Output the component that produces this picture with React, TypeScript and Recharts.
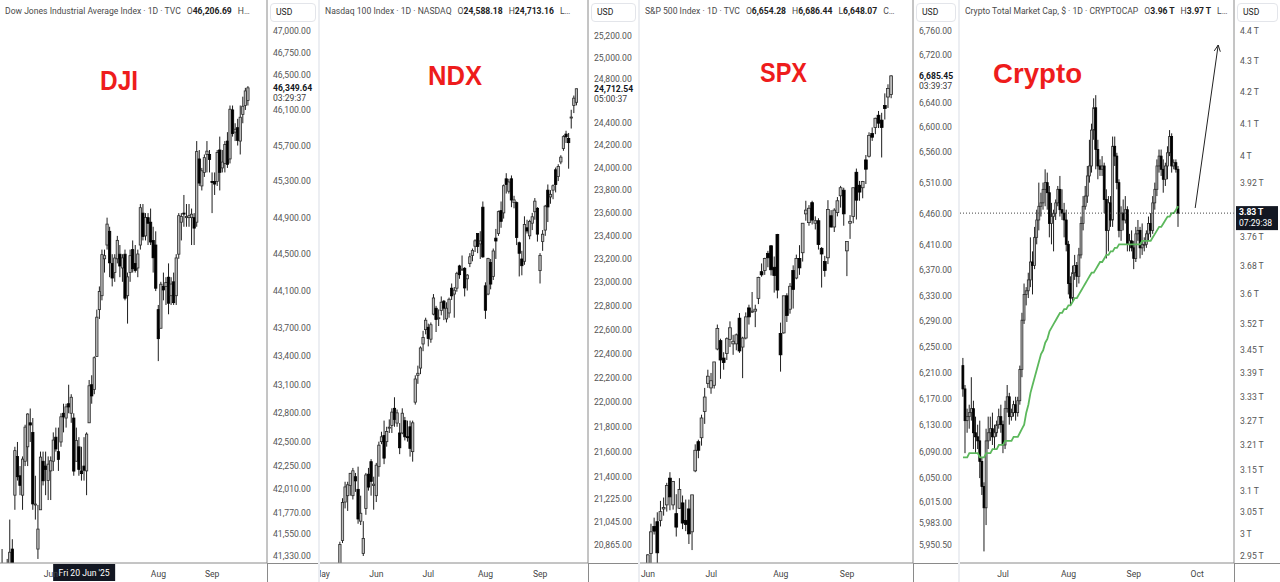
import React from 'react';
import { ComposedChart, Bar, Line, XAxis, YAxis, ReferenceLine } from 'recharts';

const FONT = "Roboto, 'Noto Sans', 'DejaVu Sans', sans-serif";
const THIN = '\u2009';

// ---------- DJI, daily bars from Mon 5 May 2025 ----------
const djiOhlc = [
  [41150, 41400, 41080, 41218], [41000, 41050, 40700, 40829], [40900, 41300, 40800, 41114], [41200, 41700, 41150, 41368],
  [41400, 41500, 41150, 41249], [41950, 42450, 41800, 42410], [42350, 42500, 42100, 42140], [42150, 42250, 41950, 42051],
  [41950, 42350, 41800, 42322], [42300, 42680, 42250, 42655], [42450, 42800, 42250, 42792], [42700, 42850, 42500, 42677],
  [42600, 42750, 41800, 41860], [41850, 42150, 41700, 41859], [41400, 41850, 41300, 41603], [41800, 42400, 41800, 42343],
  [42300, 42400, 42050, 42098], [42250, 42400, 41950, 42215], [42100, 42350, 41900, 42270], [42200, 42350, 41900, 42305],
  [42300, 42600, 42200, 42520], [42550, 42650, 42400, 42427], [42400, 42650, 42200, 42319], [42500, 42800, 42450, 42763],
  [42800, 42900, 42600, 42762], [42750, 42900, 42650, 42867], [42900, 43100, 42800, 42866], [42800, 43000, 42700, 42968],
  [42750, 42800, 42150, 42198], [42300, 42650, 42300, 42515], [42450, 42550, 42150, 42215], [42200, 42450, 42100, 42172],
  [42250, 42550, 42100, 42207], [42200, 42600, 41950, 42582], [42700, 43150, 42700, 43089], [43100, 43200, 42900, 42982],
  [43050, 43400, 43000, 43386], [43400, 43900, 43400, 43819], [43900, 44150, 43800, 44095], [44050, 44550, 44000, 44495],
  [44450, 44550, 44300, 44484], [44600, 44900, 44550, 44829], [44750, 44800, 44250, 44406], [44400, 44500, 44150, 44241],
  [44300, 44500, 44200, 44458], [44450, 44700, 44400, 44651], [44500, 44600, 44250, 44371], [44350, 44500, 44200, 44460],
  [44500, 44550, 44000, 44023], [44050, 44300, 43750, 44254], [44300, 44550, 44200, 44484], [44550, 44650, 44300, 44342],
  [44400, 44600, 44300, 44323], [44350, 44550, 44250, 44502], [44600, 45050, 44550, 45010], [44950, 45050, 44650, 44694],
  [44700, 44950, 44650, 44902], [44900, 44950, 44600, 44838], [44850, 45000, 44600, 44633], [44650, 44800, 44300, 44461],
  [44600, 44750, 44100, 44131], [43900, 43950, 43350, 43589], [43700, 44200, 43700, 44174], [44150, 44300, 44000, 44112],
  [44150, 44250, 43950, 44193], [44250, 44400, 43850, 43969], [44050, 44250, 43950, 44176], [44200, 44300, 43950, 43975],
  [44050, 44500, 43950, 44459], [44500, 44950, 44450, 44922], [44850, 44950, 44650, 44912], [44950, 45150, 44800, 44946],
  [44900, 45050, 44800, 44912], [44900, 45050, 44800, 44922], [44900, 45000, 44600, 44938], [44900, 44950, 44600, 44785],
  [44850, 45750, 44800, 45632], [45550, 45650, 45250, 45282], [45250, 45450, 45200, 45418], [45400, 45600, 45350, 45565],
  [45600, 45750, 45400, 45637], [45600, 45650, 45400, 45545], [45300, 45400, 44950, 45296], [45300, 45400, 45150, 45271],
  [45300, 45650, 45250, 45621], [45650, 45800, 45200, 45401], [45450, 45650, 45400, 45515], [45500, 45750, 45400, 45711],
  [45750, 45850, 45450, 45490], [45550, 46150, 45500, 46108], [46100, 46150, 45800, 45834], [45850, 45950, 45750, 45883],
  [45900, 46000, 45700, 45758], [45750, 46150, 45600, 46018], [46050, 46250, 45950, 46142], [46150, 46350, 46100, 46315],
  [46207, 46370, 46150, 46350],
];
const djiTicks = [47000, 46750, 46500, 46100, 45700, 45300, 44900, 44500, 44100, 43700, 43400, 43100, 42800, 42500, 42250, 42010, 41770, 41550, 41330];
// "Jul" sits under the crosshair date tag in the reference, so only these show
const djiMonthIdx = [19, 61, 82];
const djiMonthNames = ['Jun', 'Aug', 'Sep'];

// ---------- NDX, daily bars from Mon 12 May 2025 ----------
const ndxOhlc = [
  [20720, 20890, 20620, 20868], [20900, 21230, 20880, 21197], [21200, 21360, 21150, 21319], [21250, 21360, 21130, 21336],
  [21330, 21430, 21250, 21427], [21250, 21470, 21220, 21447], [21400, 21430, 21280, 21367], [21300, 21480, 21030, 21067],
  [21050, 21250, 21020, 21112], [20800, 21050, 20780, 20916], [21150, 21430, 21100, 21414], [21420, 21470, 21290, 21318],
  [21520, 21540, 21250, 21363], [21330, 21400, 21140, 21341], [21250, 21510, 21200, 21492], [21480, 21680, 21400, 21652],
  [21680, 21760, 21660, 21719], [21730, 21850, 21500, 21548], [21680, 21800, 21640, 21762], [21790, 21860, 21750, 21797],
  [21810, 21950, 21750, 21919], [21950, 22040, 21800, 21860], [21830, 21940, 21800, 21913], [21750, 21830, 21580, 21631],
  [21750, 21950, 21740, 21910], [21850, 21880, 21690, 21719], [21720, 21850, 21680, 21719], [21800, 21850, 21560, 21626],
  [21600, 21850, 21520, 21832], [22000, 22220, 21980, 22190], [22220, 22300, 22150, 22237], [22280, 22460, 22230, 22447],
  [22480, 22590, 22420, 22534], [22600, 22700, 22560, 22679], [22620, 22650, 22460, 22526], [22520, 22660, 22490, 22641],
  [22730, 22900, 22720, 22867], [22780, 22800, 22580, 22685], [22700, 22770, 22630, 22700], [22760, 22880, 22720, 22831],
  [22840, 22850, 22680, 22780], [22690, 22830, 22660, 22780], [22740, 22870, 22700, 22856], [22950, 22990, 22850, 22885],
  [22900, 22960, 22700, 22933], [22950, 23090, 22920, 23077], [23140, 23150, 23030, 23065], [23110, 23230, 23100, 23113],
  [23120, 23130, 22880, 22952], [23030, 23070, 22930, 23062], [23160, 23250, 23130, 23219], [23230, 23290, 23180, 23272],
  [23310, 23370, 23260, 23357], [23420, 23420, 23250, 23308], [23330, 23440, 23200, 23356], [23650, 23700, 23210, 23218],
  [22970, 23000, 22690, 22763], [22900, 23210, 22890, 23205], [23170, 23200, 22940, 22985], [23050, 23290, 23020, 23269],
  [23380, 23460, 23200, 23355], [23420, 23620, 23400, 23611], [23620, 23700, 23470, 23526], [23600, 23850, 23550, 23839],
  [23900, 23950, 23770, 23850], [23790, 23900, 23770, 23872], [23900, 23930, 23650, 23713], [23690, 23750, 23640, 23714],
  [23690, 23700, 23320, 23386], [23340, 23350, 23050, 23249], [23200, 23270, 23060, 23142], [23180, 23570, 23150, 23498],
  [23470, 23540, 23420, 23442], [23400, 23540, 23370, 23526], [23510, 23600, 23450, 23566], [23610, 23730, 23540, 23703],
  [23640, 23650, 23350, 23415], [23100, 23250, 22990, 23231], [23350, 23450, 23270, 23414], [23450, 23670, 23400, 23659],
  [23800, 23850, 23520, 23652], [23740, 23800, 23680, 23763], [23800, 23850, 23720, 23839], [23980, 24000, 23780, 23849],
  [23920, 24030, 23880, 24010], [24050, 24110, 24030, 24093], [24170, 24290, 24150, 24277], [24300, 24330, 24220, 24275],
  [24260, 24310, 23990, 24223], [24450, 24520, 24350, 24454], [24560, 24650, 24490, 24626], [24588, 24713, 24560, 24712],
];
const ndxTicks = [25200, 25000, 24800, 24400, 24200, 24000, 23800, 23600, 23400, 23200, 23000, 22800, 22600, 22400, 22200, 22000, 21800, 21600, 21400, 21225, 21045, 20865];
const ndxMonthIdx = [-7, 14, 34, 56, 77];
const ndxMonthNames = ['May', 'Jun', 'Jul', 'Aug', 'Sep'];

// ---------- SPX, daily bars from Mon 2 Jun 2025 ----------
const spxOhlc = [
  [5896, 5937, 5861, 5936], [5938, 5982, 5918, 5970], [5978, 5991, 5966, 5971], [5985, 5999, 5921, 5939],
  [5987, 6016, 5978, 6000], [6004, 6021, 5994, 6006], [6010, 6043, 6000, 6039], [6050, 6059, 6002, 6022],
  [6010, 6045, 6003, 6045], [5997, 6026, 5963, 5977], [6005, 6050, 6004, 6033], [6013, 6024, 5974, 5983],
  [5987, 6018, 5971, 5981], [6004, 6018, 5952, 5967], [5970, 6025, 5943, 6025], [6061, 6101, 6059, 6092],
  [6105, 6108, 6080, 6092], [6111, 6146, 6099, 6141], [6151, 6187, 6132, 6173], [6194, 6215, 6187, 6205],
  [6187, 6210, 6178, 6198], [6191, 6227, 6186, 6227], [6247, 6285, 6245, 6279], [6260, 6263, 6201, 6230],
  [6233, 6242, 6215, 6226], [6240, 6265, 6230, 6263], [6262, 6290, 6250, 6280], [6255, 6269, 6238, 6259],
  [6255, 6271, 6245, 6269], [6295, 6303, 6241, 6244], [6250, 6266, 6202, 6264], [6264, 6304, 6262, 6297],
  [6311, 6316, 6285, 6297], [6305, 6336, 6303, 6306], [6306, 6316, 6281, 6309], [6326, 6360, 6317, 6359],
  [6368, 6381, 6360, 6363], [6370, 6390, 6363, 6389], [6397, 6401, 6375, 6390], [6409, 6410, 6362, 6371],
  [6375, 6392, 6335, 6362], [6427, 6428, 6326, 6339], [6271, 6288, 6212, 6238], [6272, 6330, 6271, 6330],
  [6330, 6334, 6289, 6299], [6309, 6350, 6302, 6345], [6370, 6378, 6310, 6340], [6358, 6395, 6356, 6389],
  [6389, 6410, 6363, 6374], [6398, 6445, 6384, 6445], [6460, 6481, 6449, 6466], [6446, 6474, 6441, 6469],
  [6478, 6481, 6443, 6450], [6445, 6456, 6435, 6449], [6449, 6453, 6403, 6411], [6405, 6407, 6343, 6396],
  [6384, 6393, 6360, 6370], [6390, 6482, 6380, 6467], [6457, 6466, 6438, 6439], [6439, 6469, 6431, 6466],
  [6462, 6487, 6456, 6481], [6489, 6505, 6470, 6502], [6498, 6502, 6441, 6460], [6401, 6416, 6361, 6416],
  [6445, 6458, 6420, 6448], [6456, 6502, 6445, 6502], [6527, 6533, 6451, 6482], [6506, 6513, 6481, 6495],
  [6502, 6513, 6485, 6512], [6547, 6555, 6508, 6532], [6553, 6592, 6551, 6587], [6590, 6600, 6578, 6584],
  [6600, 6616, 6589, 6615], [6620, 6627, 6599, 6607], [6612, 6624, 6551, 6600], [6636, 6656, 6613, 6631],
  [6650, 6671, 6632, 6664], [6654, 6686, 6648, 6685],
];
const spxTicks = [6760, 6720, 6640, 6600, 6560, 6510, 6460, 6410, 6370, 6330, 6290, 6250, 6210, 6170, 6130, 6090, 6050, 6015, 5983, 5950.5];
const spxMonthIdx = [0, 20, 42, 63];
const spxMonthNames = ['Jun', 'Jul', 'Aug', 'Sep'];

// ---------- Crypto total market cap (T), daily bars from 12 Jun 2025 ----------
const cryptoOhlc = [
  [3.41, 3.43, 3.33, 3.35], [3.35, 3.36, 3.19, 3.27], [3.27, 3.30, 3.24, 3.28], [3.28, 3.31, 3.25, 3.29],
  [3.29, 3.38, 3.27, 3.30], [3.30, 3.32, 3.20, 3.24], [3.24, 3.28, 3.19, 3.23], [3.23, 3.26, 3.20, 3.22],
  [3.22, 3.27, 3.13, 3.17], [3.17, 3.18, 3.09, 3.11], [3.11, 3.12, 2.96, 3.06], [3.06, 3.25, 3.02, 3.22],
  [3.22, 3.28, 3.20, 3.24], [3.24, 3.28, 3.22, 3.25], [3.25, 3.29, 3.21, 3.23], [3.23, 3.26, 3.20, 3.24],
  [3.24, 3.27, 3.23, 3.26], [3.26, 3.30, 3.25, 3.28], [3.28, 3.31, 3.24, 3.26],
  [3.26, 3.27, 3.19, 3.21], [3.21, 3.32, 3.20, 3.30], [3.30, 3.36, 3.29, 3.33], [3.33, 3.34, 3.26, 3.28],
  [3.28, 3.30, 3.27, 3.29], [3.29, 3.32, 3.28, 3.31], [3.31, 3.33, 3.27, 3.29], [3.29, 3.33, 3.28, 3.32],
  [3.32, 3.41, 3.31, 3.40], [3.40, 3.55, 3.38, 3.53], [3.53, 3.63, 3.52, 3.60], [3.60, 3.62, 3.57, 3.61],
  [3.61, 3.66, 3.59, 3.64], [3.64, 3.76, 3.62, 3.69], [3.69, 3.72, 3.60, 3.68], [3.68, 3.79, 3.67, 3.76],
  [3.76, 3.84, 3.74, 3.81], [3.81, 3.92, 3.78, 3.85], [3.85, 3.89, 3.82, 3.86], [3.86, 3.92, 3.84, 3.90],
  [3.90, 3.96, 3.85, 3.92], [3.92, 3.95, 3.84, 3.89], [3.89, 3.91, 3.76, 3.80], [3.80, 3.86, 3.74, 3.82],
  [3.82, 3.84, 3.72, 3.83], [3.83, 3.87, 3.81, 3.86], [3.86, 3.91, 3.85, 3.90], [3.90, 3.94, 3.82, 3.84],
  [3.84, 3.90, 3.81, 3.83], [3.83, 3.86, 3.76, 3.81], [3.81, 3.84, 3.72, 3.74],
  [3.74, 3.75, 3.60, 3.63], [3.63, 3.65, 3.57, 3.59], [3.59, 3.68, 3.58, 3.66], [3.66, 3.71, 3.64, 3.68],
  [3.68, 3.69, 3.62, 3.65], [3.65, 3.73, 3.63, 3.71], [3.71, 3.82, 3.70, 3.80], [3.80, 3.88, 3.78, 3.85],
  [3.85, 3.91, 3.84, 3.88], [3.88, 3.97, 3.86, 3.94], [3.94, 4.05, 3.92, 3.97], [3.97, 4.10, 3.95, 4.08],
  [4.08, 4.18, 4.05, 4.15], [4.15, 4.19, 3.96, 4.02], [4.02, 4.05, 3.93, 3.97], [3.97, 3.99, 3.94, 3.96],
  [3.96, 4.00, 3.94, 3.97], [3.97, 3.98, 3.83, 3.87], [3.87, 3.90, 3.70, 3.78], [3.78, 3.88, 3.72, 3.86],
  [3.86, 3.88, 3.79, 3.81], [3.81, 4.06, 3.79, 4.03], [4.03, 4.06, 3.97, 4.00], [4.00, 4.01, 3.90, 3.92],
  [3.92, 3.93, 3.76, 3.78], [3.78, 3.85, 3.75, 3.83], [3.83, 3.87, 3.78, 3.81], [3.81, 3.88, 3.80, 3.84],
  [3.84, 3.85, 3.72, 3.74], [3.74, 3.77, 3.72, 3.75], [3.75, 3.78, 3.72, 3.73],
  [3.73, 3.75, 3.67, 3.70], [3.70, 3.79, 3.69, 3.77], [3.77, 3.81, 3.75, 3.78], [3.78, 3.79, 3.70, 3.73],
  [3.73, 3.80, 3.71, 3.74], [3.74, 3.76, 3.72, 3.74], [3.74, 3.78, 3.73, 3.77], [3.77, 3.82, 3.75, 3.80],
  [3.80, 3.83, 3.76, 3.78], [3.78, 3.88, 3.77, 3.86], [3.86, 3.92, 3.84, 3.90], [3.90, 3.99, 3.88, 3.97],
  [3.97, 4.02, 3.95, 4.00], [4.00, 4.02, 3.94, 3.96], [3.96, 3.99, 3.89, 3.93], [3.93, 3.98, 3.91, 3.97],
  [3.97, 4.03, 3.93, 4.01], [4.01, 4.08, 4.00, 4.06], [4.06, 4.07, 3.95, 3.97], [3.97, 3.99, 3.96, 3.98],
  [3.98, 3.99, 3.95, 3.96], [3.96, 3.97, 3.79, 3.83],
];
const cryptoMa = [
  3.18, 3.18, 3.18, 3.19, 3.19, 3.19, 3.19, 3.19, 3.18, 3.18,
  3.18, 3.19, 3.19, 3.19, 3.20, 3.20, 3.20, 3.21, 3.21, 3.21,
  3.22, 3.22, 3.22, 3.22, 3.23, 3.23, 3.23, 3.24, 3.25, 3.26,
  3.29, 3.31, 3.34, 3.36, 3.38, 3.40, 3.42, 3.44, 3.45, 3.47,
  3.48, 3.50, 3.51, 3.52, 3.53, 3.54, 3.55, 3.55, 3.56, 3.56,
  3.57, 3.57, 3.58, 3.59, 3.59, 3.60, 3.61, 3.62, 3.63, 3.64,
  3.65, 3.66, 3.66, 3.67, 3.68, 3.69, 3.69, 3.70, 3.71, 3.71,
  3.72, 3.72, 3.73, 3.73, 3.74, 3.74, 3.74, 3.74, 3.74, 3.74,
  3.74, 3.74, 3.74, 3.74, 3.74, 3.75, 3.75, 3.75, 3.75, 3.75,
  3.76, 3.77, 3.78, 3.79, 3.79, 3.80, 3.81, 3.82, 3.82, 3.83,
  3.83, 3.84, 3.85,
];
const cryptoTicks = [4.4, 4.3, 4.2, 4.1, 4, 3.92, 3.76, 3.68, 3.6, 3.52, 3.45, 3.39, 3.33, 3.27, 3.21, 3.15, 3.1, 3.05, 3, 2.95];
const cryptoMonthIdx = [19, 50, 81, 111];
const cryptoMonthNames = ['Jul', 'Aug', 'Sep', 'Oct'];
// hand-drawn arrow: [day index, value] start and end
const cryptoArrow = [[110.1, 3.845], [121.0, 4.353]];

const fmtUsd = (v: number) => v.toLocaleString('en-US', { minimumFractionDigits: 2, maximumFractionDigits: 2 });
const fmtT = (v: number) => `${v}${THIN}T`;

const Candle = (props: any) => {
  const { x, y, width, height, payload } = props;
  if (!payload || !isFinite(y) || !isFinite(height)) return <g />;
  const { o, h, l, c } = payload;
  const lh = Math.log(h);
  const ll = Math.log(l);
  const py = (v: number) => (lh === ll ? y : y + (height * (lh - Math.log(v))) / (lh - ll));
  const cx = x + width / 2;
  const up = c >= o;
  const top = py(Math.max(o, c));
  const bot = py(Math.min(o, c));
  return (
    <g>
      <line x1={cx} x2={cx} y1={y} y2={y + height} stroke="#1e1e1e" strokeWidth={1} />
      <rect
        x={x}
        y={top}
        width={width}
        height={Math.max(1, bot - top)}
        fill={up ? '#bdbdbd' : '#000'}
        stroke={up ? '#2a2a2a' : '#000'}
        strokeWidth={0.8}
      />
    </g>
  );
};

type PanelProps = {
  left: number;
  width: number;
  axisW: number;
  ohlc: number[][];
  ma?: number[];
  yDomain: [number, number];
  yTicks: number[];
  fmt: (v: number) => string;
  xDomain: [number, number];
  monthIdx: number[];
  monthNames: string[];
  barSize: number;
  title: string;
  quotes: [string, string][];
  label: string;
  labelX: number;
  labelY: number;
  labelW: number;
  labelSize: number;
  last: number;
  lastText: string;
  countdown: string;
  darkTag?: boolean;
  crosshair?: { idx: number; text: string };
  arrow?: number[][];
};

function Panel(p: PanelProps) {
  const data = p.ohlc.map(([o, h, l, c], i) => ({ i, o, h, l, c, range: [l, h], ma: p.ma ? p.ma[i] : null }));
  const plotW = p.width - p.axisW;

  const priceTag = (props: any) => {
    const vb = props.viewBox || {};
    const tx = vb.x + vb.width;
    const ty = vb.y;
    if (p.darkTag) {
      return (
        <g>
          <rect x={tx + 2} y={ty - 7} width={p.axisW - 4} height={24} fill="#131722" />
          <text x={tx + 5} y={ty + 2} fontSize={8.6} fontWeight={700} fill="#fff" fontFamily={FONT}>{p.lastText}</text>
          <text x={tx + 5} y={ty + 13} fontSize={8.6} fill="#fff" fontFamily={FONT}>{p.countdown}</text>
        </g>
      );
    }
    return (
      <g>
        <text x={tx + 6} y={ty + 3} fontSize={8.6} fontWeight={700} fill="#131722" fontFamily={FONT}>{p.lastText}</text>
        <text x={tx + 6} y={ty + 13} fontSize={8.6} fill="#3a3a3a" fontFamily={FONT}>{p.countdown}</text>
      </g>
    );
  };

  const crossTag = (props: any) => {
    const vb = props.viewBox || {};
    if (!p.crosshair) return <g />;
    return (
      <g>
        <rect x={vb.x - 31} y={564} width={62} height={17} fill="#131722" />
        <text x={vb.x} y={576} fontSize={8.6} fill="#fff" textAnchor="middle" fontFamily={FONT}>{p.crosshair.text}</text>
      </g>
    );
  };

  const arrowShape = (props: any) => {
    const { x1, y1, x2, y2 } = props;
    const ang = Math.atan2(y2 - y1, x2 - x1);
    const len = 7;
    const a1 = ang + Math.PI - 0.45;
    const a2 = ang + Math.PI + 0.45;
    return (
      <g stroke="#222" strokeWidth={1} fill="none">
        <line x1={x1} y1={y1} x2={x2} y2={y2} />
        <line x1={x2} y1={y2} x2={x2 + len * Math.cos(a1)} y2={y2 + len * Math.sin(a1)} />
        <line x1={x2} y1={y2} x2={x2 + len * Math.cos(a2)} y2={y2 + len * Math.sin(a2)} />
      </g>
    );
  };

  return (
    <div style={{ position: 'absolute', left: p.left, top: 0, width: p.width, height: 582, overflow: 'hidden' }}>
      <ComposedChart width={p.width} height={582} data={data} margin={{ top: 0, right: 0, bottom: 0, left: 0 }}>
        <XAxis
          type="number"
          dataKey="i"
          domain={p.xDomain}
          allowDataOverflow
          ticks={p.monthIdx}
          interval={0}
          height={19}
          tickSize={0}
          tickMargin={0}
          axisLine={{ stroke: '#8a8a8a' }}
          tick={(t: any) => (
            <text x={t.x} y={t.y + 14} fontSize={8.6} fill="#444" textAnchor="middle" fontFamily={FONT}>
              {p.monthNames[p.monthIdx.indexOf(t.payload.value)]}
            </text>
          )}
        />
        <YAxis
          orientation="right"
          scale="log"
          domain={p.yDomain}
          allowDataOverflow
          ticks={p.yTicks}
          interval={0}
          width={p.axisW}
          tickSize={0}
          tickMargin={0}
          axisLine={{ stroke: '#8a8a8a' }}
          tick={(t: any) => (
            <text x={t.x + 6} y={t.y + 3} fontSize={8.6} fill="#555" fontFamily={FONT}>
              {p.fmt(t.payload.value)}
            </text>
          )}
        />
        <Bar dataKey="range" barSize={p.barSize} shape={Candle} isAnimationActive={false} />
        {p.ma && (
          <Line type="linear" dataKey="ma" stroke="#5cb85c" strokeWidth={1.8} dot={false} activeDot={false} isAnimationActive={false} />
        )}
        {p.darkTag ? (
          <ReferenceLine y={p.last} stroke="#444" strokeDasharray="1 2" label={priceTag} />
        ) : (
          <ReferenceLine y={p.last} stroke="none" label={priceTag} />
        )}
        {p.crosshair && <ReferenceLine x={p.crosshair.idx} stroke="none" label={crossTag} />}
        {p.arrow && (
          <ReferenceLine
            segment={[{ x: p.arrow[0][0], y: p.arrow[0][1] }, { x: p.arrow[1][0], y: p.arrow[1][1] }]}
            shape={arrowShape}
          />
        )}
      </ComposedChart>

      <div style={{ position: 'absolute', left: 5, top: 5, fontSize: 8.6, lineHeight: '12px', color: '#4a4a4a', fontFamily: FONT, whiteSpace: 'nowrap' }}>
        {p.title}
        {p.quotes.map(([k, v]) => (
          <span key={k} style={{ marginLeft: 6 }}>
            {k}
            <b style={{ color: '#222' }}>{v}</b>
          </span>
        ))}
      </div>

      <div style={{ position: 'absolute', left: plotW + 3, top: 3, width: p.axisW - 12, height: 17, border: '1px solid #e3e5ea', borderRadius: 4, fontSize: 8.6, lineHeight: '17px', color: '#222', fontFamily: FONT, paddingLeft: 5, boxSizing: 'content-box' }}>
        USD
      </div>

      <div style={{ position: 'absolute', left: plotW, top: 563, width: p.axisW, height: 1, background: '#8a8a8a' }} />
      <div style={{ position: 'absolute', left: plotW, top: 563, width: 1, height: 19, background: '#8a8a8a' }} />

      <svg style={{ position: 'absolute', left: 0, top: 0, pointerEvents: 'none' }} width={p.width} height={120}>
        <text
          x={p.labelX}
          y={p.labelY}
          fontSize={p.labelSize}
          fontWeight={700}
          fill="#ee1c1c"
          fontFamily="'Liberation Sans', Arial, sans-serif"
          textLength={p.labelW}
          lengthAdjust="spacingAndGlyphs"
        >
          {p.label}
        </text>
      </svg>
    </div>
  );
}

export default function App() {
  return (
    <div style={{ position: 'absolute', left: 0, top: 0, width: 1280, height: 582, background: '#fff', overflow: 'hidden' }}>
      <div style={{ position: 'absolute', left: 318, top: 0, width: 2, height: 582, background: '#eceef2' }} />
      <div style={{ position: 'absolute', left: 638, top: 0, width: 2, height: 582, background: '#eceef2' }} />
      <div style={{ position: 'absolute', left: 958, top: 0, width: 2, height: 582, background: '#eceef2' }} />
      <Panel
        left={0}
        width={318}
        axisW={51}
        ohlc={djiOhlc}
        yDomain={[41259, 47358]}
        yTicks={djiTicks}
        fmt={fmtUsd}
        xDomain={[-0.86, 103.4]}
        monthIdx={djiMonthIdx}
        monthNames={djiMonthNames}
        barSize={2.6}
        title="Dow Jones Industrial Average Index · 1D · TVC"
        quotes={[['O', '46,206.69'], ['H…', '']]}
        label="DJI"
        labelX={100}
        labelY={90}
        labelW={38}
        labelSize={28}
        last={46349.64}
        lastText="46,349.64"
        countdown="03:29:37"
        crosshair={{ idx: 32, text: "Fri 20 Jun '25" }}
      />
      <Panel
        left={320}
        width={318}
        axisW={50}
        ohlc={ndxOhlc}
        yDomain={[20726, 25539]}
        yTicks={ndxTicks}
        fmt={fmtUsd}
        xDomain={[-7.7, 95.4]}
        monthIdx={ndxMonthIdx}
        monthNames={ndxMonthNames}
        barSize={2.6}
        title="Nasdaq 100 Index · 1D · NASDAQ"
        quotes={[['O', '24,588.18'], ['H', '24,713.16'], ['L…', '']]}
        label="NDX"
        labelX={108}
        labelY={85}
        labelW={54}
        labelSize={28}
        last={24712.54}
        lastText="24,712.54"
        countdown="05:00:37"
      />
      <Panel
        left={640}
        width={318}
        axisW={45}
        ohlc={spxOhlc}
        yDomain={[5924, 6812]}
        yTicks={spxTicks}
        fmt={fmtUsd}
        xDomain={[-2.53, 83.86]}
        monthIdx={spxMonthIdx}
        monthNames={spxMonthNames}
        barSize={2.8}
        title="S&P 500 Index · 1D · TVC"
        quotes={[['O', '6,654.28'], ['H', '6,686.44'], ['L', '6,648.07'], ['C…', '']]}
        label="SPX"
        labelX={120}
        labelY={82}
        labelW={47}
        labelSize={28}
        last={6685.45}
        lastText="6,685.45"
        countdown="03:39:37"
      />
      <Panel
        left={960}
        width={320}
        axisW={46}
        ohlc={cryptoOhlc}
        ma={cryptoMa}
        yDomain={[2.934, 4.505]}
        yTicks={cryptoTicks}
        fmt={fmtT}
        xDomain={[-1.42, 128.5]}
        monthIdx={cryptoMonthIdx}
        monthNames={cryptoMonthNames}
        barSize={2.2}
        title="Crypto Total Market Cap, $ · 1D · CRYPTOCAP"
        quotes={[['O', `3.96${THIN}T`], ['H', `3.97${THIN}T`], ['L…', '']]}
        label="Crypto"
        labelX={33}
        labelY={83}
        labelW={89}
        labelSize={27}
        last={3.83}
        lastText={`3.83${THIN}T`}
        countdown="07:29:38"
        darkTag
        arrow={cryptoArrow}
      />
    </div>
  );
}
